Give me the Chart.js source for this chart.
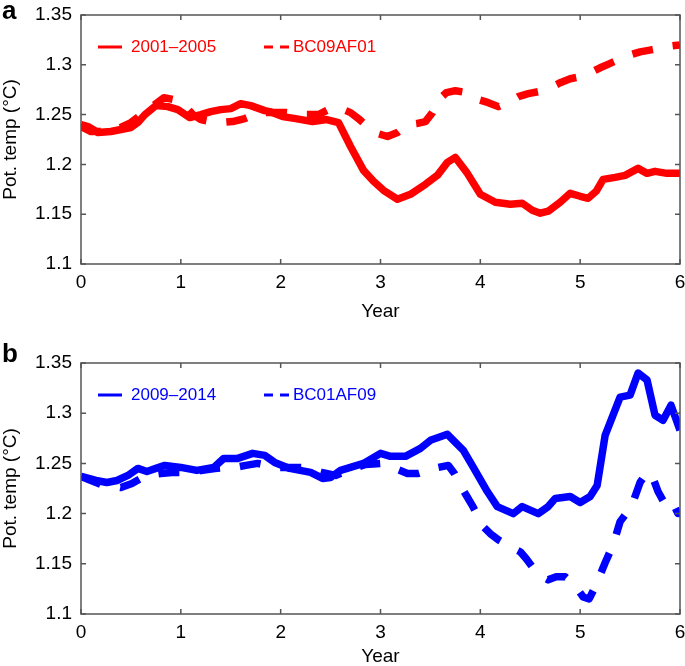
<!DOCTYPE html>
<html>
<head>
<meta charset="utf-8">
<script src="https://cdn.jsdelivr.net/npm/chart.js@4/dist/chart.umd.min.js"></script>
<style>
  body { margin: 0; background: #fff; }
  #wrap { position: relative; width: 685px; height: 666px; }
  .panel { position: absolute; left: 0; width: 685px; height: 333px; }
  .tag { position: absolute; left: 2px; font: bold 26px "Liberation Sans", Arial, sans-serif; line-height: 26px; color: #000; }
</style>
</head>
<body>
<div id="wrap">
  <div class="panel" style="top:0"><canvas id="chart-a" width="685" height="333"></canvas></div>
  <div class="panel" style="top:333px"><canvas id="chart-b" width="685" height="333"></canvas></div>
  <div class="tag" style="top:-3px">a</div>
  <div class="tag" style="top:340px">b</div>
</div>
<script>
const xTicks = [0, 1, 2, 3, 4, 5, 6]
const xTickLabels = ["0", "1", "2", "3", "4", "5", "6"]
const yTicks = [1.1, 1.15, 1.2, 1.25, 1.3, 1.35]
const yTickLabels = ["1.1", "1.15", "1.2", "1.25", "1.3", "1.35"]

// panel a
const obsA = "2001–2005"
const obsAYear = [0, 0.07, 0.17, 0.3, 0.4, 0.5, 0.57, 0.64, 0.75, 0.87, 0.97, 1.09, 1.2, 1.3, 1.4, 1.5, 1.6, 1.7, 1.84, 1.89, 2.02, 2.15, 2.32, 2.46, 2.58, 2.7, 2.83, 2.93, 3.03, 3.17, 3.3, 3.45, 3.57, 3.67, 3.75, 3.87, 4.0, 4.15, 4.3, 4.42, 4.52, 4.6, 4.68, 4.8, 4.9, 5.0, 5.08, 5.16, 5.23, 5.35, 5.45, 5.58, 5.67, 5.75, 5.87, 6.0]
const obsATemp = [1.24, 1.238, 1.232, 1.233, 1.235, 1.237, 1.242, 1.25, 1.259, 1.258, 1.255, 1.247, 1.25, 1.253, 1.255, 1.256, 1.261, 1.259, 1.254, 1.253, 1.248, 1.246, 1.243, 1.245, 1.242, 1.218, 1.194, 1.183, 1.174, 1.165, 1.17, 1.18, 1.189, 1.202, 1.207, 1.191, 1.17, 1.162, 1.16, 1.161, 1.154, 1.151, 1.153, 1.162, 1.171, 1.168, 1.166, 1.173, 1.185, 1.187, 1.189, 1.196, 1.191, 1.193, 1.191, 1.191]
const runA = "BC09AF01"
const runAYear = [0, 0.1, 0.2, 0.35, 0.5, 0.67, 0.83, 0.93, 1.03, 1.12, 1.2, 1.3, 1.4, 1.52, 1.64, 1.74, 1.84, 1.95, 2.06, 2.16, 2.26, 2.38, 2.5, 2.58, 2.7, 2.79, 2.88, 2.97, 3.07, 3.17, 3.27, 3.36, 3.45, 3.52, 3.58, 3.66, 3.75, 3.87, 3.98, 4.08, 4.18, 4.28, 4.38, 4.48, 4.58, 4.7, 4.8, 4.9, 5.0, 5.1, 5.2, 5.29, 5.38, 5.5, 5.6, 5.71, 5.82, 5.92, 6.0]
const runATemp = [1.238, 1.233, 1.233, 1.235, 1.242, 1.255, 1.267, 1.265, 1.26, 1.25, 1.245, 1.243, 1.242, 1.243, 1.246, 1.25, 1.252, 1.252, 1.252, 1.251, 1.25, 1.25, 1.256, 1.257, 1.252, 1.245, 1.237, 1.231, 1.228, 1.232, 1.24, 1.241, 1.243, 1.252, 1.265, 1.272, 1.274, 1.272, 1.265, 1.262, 1.258, 1.262, 1.268, 1.271, 1.273, 1.277, 1.282, 1.286, 1.288, 1.292, 1.297, 1.301, 1.305, 1.31, 1.313, 1.315, 1.317, 1.319, 1.32]

// panel b
const obsB = "2009–2014"
const obsBYear = [0, 0.04, 0.15, 0.26, 0.36, 0.47, 0.57, 0.66, 0.75, 0.84, 1.0, 1.16, 1.33, 1.43, 1.57, 1.72, 1.84, 1.94, 2.09, 2.3, 2.42, 2.5, 2.6, 2.83, 3.0, 3.1, 3.25, 3.4, 3.5, 3.67, 3.83, 3.93, 4.07, 4.17, 4.33, 4.42, 4.58, 4.68, 4.75, 4.9, 5.0, 5.1, 5.17, 5.25, 5.4, 5.5, 5.58, 5.67, 5.75, 5.83, 5.91, 6.0]
const obsBTemp = [1.237, 1.236, 1.233, 1.231, 1.233, 1.238, 1.245, 1.242, 1.245, 1.248, 1.246, 1.243, 1.246, 1.255, 1.255, 1.26, 1.258, 1.251, 1.245, 1.241, 1.235, 1.236, 1.243, 1.25, 1.26, 1.257, 1.257, 1.265, 1.273, 1.279, 1.263, 1.246, 1.222, 1.207, 1.2, 1.207, 1.2, 1.207, 1.215, 1.217, 1.211, 1.217, 1.228, 1.278, 1.316, 1.318, 1.34, 1.333, 1.298, 1.293, 1.308, 1.283]
const runB = "BC01AF09"
const runBYear = [0, 0.1, 0.2, 0.3, 0.4, 0.51, 0.6, 0.67, 0.8, 0.91, 1.0, 1.11, 1.2, 1.34, 1.44, 1.54, 1.65, 1.77, 1.87, 1.97, 2.1, 2.21, 2.31, 2.41, 2.55, 2.7, 2.85, 3.0, 3.07, 3.17, 3.27, 3.38, 3.48, 3.58, 3.68, 3.74, 3.8, 3.86, 3.92, 4.03, 4.1, 4.18, 4.3, 4.4, 4.46, 4.52, 4.6, 4.68, 4.76, 4.85, 4.95, 5.03, 5.09, 5.15, 5.25, 5.33, 5.4, 5.46, 5.52, 5.6, 5.67, 5.72, 5.78, 5.83, 5.9, 5.98, 6.0]
const runBTemp = [1.237, 1.233, 1.229, 1.228, 1.226, 1.23, 1.235, 1.238, 1.24, 1.241, 1.241, 1.241, 1.243, 1.245, 1.246, 1.246, 1.248, 1.25, 1.248, 1.246, 1.246, 1.246, 1.244, 1.241, 1.238, 1.244, 1.249, 1.25, 1.248, 1.244, 1.24, 1.24, 1.243, 1.246, 1.248, 1.24, 1.228, 1.218, 1.208, 1.187, 1.18, 1.174, 1.167, 1.162, 1.155, 1.147, 1.138, 1.134, 1.137, 1.137, 1.128, 1.117, 1.115, 1.127, 1.151, 1.169, 1.192, 1.2, 1.209, 1.231, 1.241, 1.238, 1.222, 1.213, 1.216, 1.2, 1.2]

const FONT = '"Liberation Sans", Arial, Helvetica, sans-serif'
const RED = "#ff0000"
const BLUE = "#0000ff"

const pts = (xs, ys) => xs.map((x, i) => ({ x: x, y: ys[i] }))

// box round the plot with inward ticks on all four sides
const frame = {
  id: "frame",
  afterDatasetsDraw(chart) {
    const { ctx, chartArea: a, scales } = chart
    ctx.save()
    ctx.strokeStyle = "#555"
    ctx.lineWidth = 1.5
    ctx.strokeRect(a.left, a.top, a.right - a.left, a.bottom - a.top)
    ctx.beginPath()
    xTicks.forEach(v => {
      const px = scales.x.getPixelForValue(v)
      ctx.moveTo(px, a.bottom); ctx.lineTo(px, a.bottom - 5)
      ctx.moveTo(px, a.top); ctx.lineTo(px, a.top + 5)
    })
    yTicks.forEach(v => {
      const py = scales.y.getPixelForValue(v)
      ctx.moveTo(a.left, py); ctx.lineTo(a.left + 5, py)
      ctx.moveTo(a.right, py); ctx.lineTo(a.right - 5, py)
    })
    ctx.stroke()
    ctx.restore()
  },
}

// legend drawn inside the plot
const key = {
  id: "key",
  afterDraw(chart, args, opts) {
    const { ctx, chartArea } = chart
    const y = chartArea.top + opts.dy
    chart.data.datasets.forEach((ds, i) => {
      const it = opts.items[i]
      ctx.save()
      ctx.strokeStyle = ds.borderColor
      ctx.lineWidth = 3
      ctx.setLineDash(ds.borderDash && ds.borderDash.length ? [9, 7] : [])
      ctx.beginPath()
      ctx.moveTo(it.x0, y)
      ctx.lineTo(it.x1, y)
      ctx.stroke()
      ctx.setLineDash([])
      ctx.fillStyle = ds.borderColor
      ctx.font = "17px " + FONT
      ctx.textBaseline = "middle"
      ctx.fillText(ds.label, it.tx, y)
      ctx.restore()
    })
  },
}

function makeChart(id, color, sets, padTop, xHeight, titlePad) {
  const config = {
    type: "line",
    data: {
      datasets: sets.map(s => ({
        label: s.label,
        data: s.data,
        borderColor: color,
        backgroundColor: color,
        borderWidth: 7.5,
        borderDash: s.dashed ? [21, 20] : [],
        borderJoinStyle: "round",
        pointRadius: 0,
        tension: 0,
        fill: false,
      })),
    },
    options: {
      responsive: false,
      animation: false,
      devicePixelRatio: 1,
      layout: { padding: { top: padTop, right: 5, left: 0, bottom: 0 } },
      plugins: {
        legend: { display: false },
        tooltip: { enabled: false },
        key: {
          dy: 32,
          items: [
            { x0: 98, x1: 122, tx: 131 },
            { x0: 264, x1: 290, tx: 293 },
          ],
        },
      },
      scales: {
        x: {
          type: "linear",
          min: 0,
          max: 6,
          afterBuildTicks: s => { s.ticks = xTicks.map(v => ({ value: v })) },
          afterFit: s => { s.height = xHeight; s.paddingLeft = 0; s.paddingRight = 0 },
          grid: { display: false, drawTicks: false },
          border: { display: false },
          ticks: {
            autoSkip: false,
            maxRotation: 0,
            padding: 7,
            color: "#000",
            font: { family: FONT, size: 19 },
            callback: (v, i) => xTickLabels[i],
          },
          title: {
            display: true,
            text: "Year",
            color: "#000",
            font: { family: FONT, size: 19, lineHeight: 1 },
            padding: { top: 0, bottom: titlePad },
          },
        },
        y: {
          type: "linear",
          min: 1.1,
          max: 1.35,
          afterBuildTicks: s => { s.ticks = yTicks.map(v => ({ value: v })) },
          afterFit: s => { s.width = 81; s.paddingTop = 0; s.paddingBottom = 0 },
          grid: { display: false, drawTicks: false },
          border: { display: false },
          ticks: {
            autoSkip: false,
            padding: 9,
            color: "#000",
            font: { family: FONT, size: 19 },
            callback: (v, i) => yTickLabels[i],
          },
          title: {
            display: true,
            text: "Pot. temp (°C)",
            color: "#000",
            font: { family: FONT, size: 19, lineHeight: 1 },
            padding: { top: 1, bottom: 0 },
          },
        },
      },
    },
    plugins: [frame, key],
  }
  return new Chart(document.getElementById(id), config)
}

const chartA = makeChart("chart-a", RED, [
  { label: obsA, data: pts(obsAYear, obsATemp), dashed: false },
  { label: runA, data: pts(runAYear, runATemp), dashed: true },
], 15, 69, 12)

const chartB = makeChart("chart-b", BLUE, [
  { label: obsB, data: pts(obsBYear, obsBTemp), dashed: false },
  { label: runB, data: pts(runBYear, runBTemp), dashed: true },
], 30, 52, 0)
</script>
</body>
</html>
